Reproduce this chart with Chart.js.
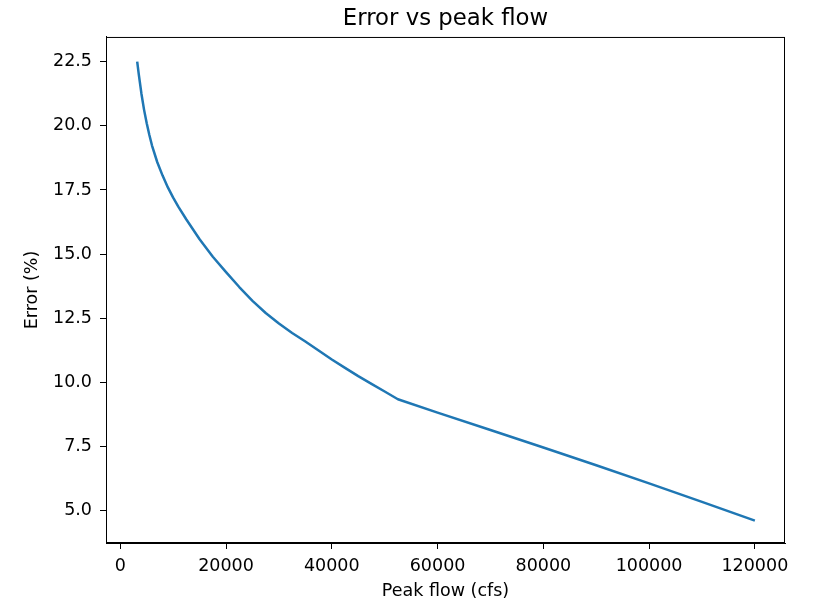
<!DOCTYPE html>
<html>
<head>
<meta charset="utf-8">
<script src="https://cdn.jsdelivr.net/npm/chart.js@4"></script>
<style>
  html, body { margin: 0; padding: 0; background: #fff; }
  #wrap { width: 815px; height: 602px; }
</style>
</head>
<body>
<div id="wrap"><canvas id="chart" width="815" height="602"></canvas></div>
<script>
// values
const peakFlow = [3200, 3500, 4000, 4500, 5000, 5500, 6000, 7000, 8000, 9000, 10000,
                  11000, 12500, 15000, 17500, 20000, 22500, 25000, 27500, 30000,
                  32500, 35000, 37500, 40000, 42500, 45000, 47500, 50000, 52500,
                  60000, 70000, 80000, 90000, 100000, 110000, 120000]
const errorPct = [22.5, 22.0, 21.25, 20.62, 20.1, 19.64, 19.23, 18.58, 18.06, 17.6, 17.2,
                  16.84, 16.35, 15.58, 14.9, 14.3, 13.72, 13.18, 12.71, 12.3,
                  11.93, 11.6, 11.25, 10.9, 10.57, 10.25, 9.95, 9.65, 9.35,
                  8.83, 8.15, 7.47, 6.78, 6.07, 5.35, 4.62]
const xTicks = [0, 20000, 40000, 60000, 80000, 100000, 120000]
const yTicks = [5.0, 7.5, 10.0, 12.5, 15.0, 17.5, 20.0, 22.5]

const FONT = 'DejaVu Sans'
Chart.defaults.color = '#000'
Chart.defaults.font.family = FONT

// top and right spines
const frame = {
  id: 'frame',
  afterDraw(chart) {
    const {ctx, chartArea: a} = chart
    ctx.save()
    ctx.strokeStyle = '#000'
    ctx.lineWidth = 1
    ctx.strokeRect(a.left + 0.5, a.top + 0.5, a.right - a.left - 1, a.bottom - a.top - 1)
    ctx.restore()
  }
}

const ctx = document.getElementById('chart').getContext('2d')
const chart = new Chart(ctx, {
  type: 'line',
  data: {
    datasets: [{
      data: peakFlow.map((x, i) => ({x: x, y: errorPct[i]})),
      borderColor: '#1f77b4',
      borderWidth: 2.5,
      borderJoinStyle: 'round',
      pointRadius: 0,
      tension: 0,
      fill: false
    }]
  },
  options: {
    responsive: false,
    animation: false,
    layout: { padding: { left: 0, right: 30, top: 0, bottom: 0 } },
    plugins: {
      legend: { display: false },
      tooltip: { enabled: false },
      title: {
        display: true,
        fullSize: false,
        text: 'Error vs peak flow',
        color: '#000',
        font: { family: FONT, size: 22.8, weight: 'normal' },
        padding: { top: 5, bottom: 4.6 }
      }
    },
    scales: {
      x: {
        type: 'linear',
        min: -2700,
        max: 125700,
        afterBuildTicks: s => { s.ticks = xTicks.map(v => ({value: v})) },
        afterFit: s => { s.height = 59 },
        grid: { drawOnChartArea: false, drawTicks: true, tickLength: 6, color: '#000' },
        border: { display: true, color: '#000', width: 1 },
        ticks: {
          padding: 6.5,
          maxRotation: 0,
          font: { size: 17.5 },
          callback: v => String(v)
        },
        title: {
          display: true,
          text: 'Peak flow (cfs)',
          font: { size: 17.5 },
          padding: { top: 0, bottom: 0 }
        }
      },
      y: {
        min: 3.75,
        max: 23.46,
        afterBuildTicks: s => { s.ticks = yTicks.map(v => ({value: v})) },
        afterFit: s => { s.width = 106 },
        grid: { drawOnChartArea: false, drawTicks: true, tickLength: 6, color: '#000' },
        border: { display: true, color: '#000', width: 1 },
        ticks: {
          padding: 8,
          font: { size: 17.5 },
          callback: v => Number(v).toFixed(1)
        },
        title: {
          display: true,
          text: 'Error (%)',
          font: { size: 17.5 },
          padding: { top: 22, bottom: 0 }
        }
      }
    }
  },
  plugins: [frame]
})
</script>
</body>
</html>
